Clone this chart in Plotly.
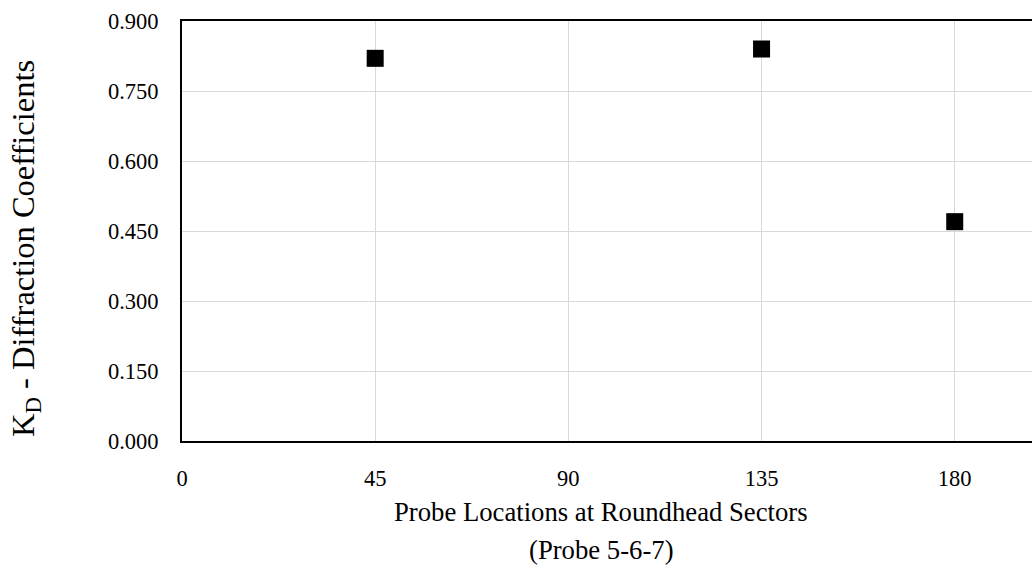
import plotly.graph_objects as go

# Probe sectors (degrees) and measured diffraction coefficients
sectors = [45, 135, 180]
kd_values = [0.82, 0.84, 0.47]

x_ticks = [0, 45, 90, 135, 180]
y_ticks = [0.0, 0.15, 0.30, 0.45, 0.60, 0.75, 0.90]

x_title_lines = ["Probe Locations at Roundhead Sectors", "(Probe 5-6-7)"]
y_title = "K<sub>D</sub> - Diffraction Coefficients"

font_family = "Liberation Serif, Times New Roman, serif"

fig = go.Figure(
    go.Scatter(
        x=sectors,
        y=kd_values,
        mode="markers",
        marker=dict(symbol="square", size=17, color="black",
                    line=dict(width=0)),
        showlegend=False,
    )
)

fig.update_layout(
    width=1032,
    height=577,
    margin=dict(l=182, r=0, t=21, b=136),
    paper_bgcolor="white",
    plot_bgcolor="white",
    font=dict(family=font_family, size=22.5, color="black"),
)

fig.update_xaxes(
    range=[0, 198],
    tickvals=x_ticks,
    ticktext=[str(v) for v in x_ticks],
    showgrid=True,
    gridcolor="#d9d9d9",
    gridwidth=1,
    zeroline=False,
    showline=True,
    linecolor="black",
    linewidth=2,
    mirror=True,
    ticks="",
    ticklabelstandoff=16,
)

fig.update_yaxes(
    range=[0, 0.9],
    tickvals=y_ticks,
    tickformat=".3f",
    showgrid=True,
    gridcolor="#d9d9d9",
    gridwidth=1,
    zeroline=False,
    showline=True,
    linecolor="black",
    linewidth=2,
    ticks="",
    ticklabelstandoff=17,
)

# Axis titles placed as annotations (two-line x title, rotated y title)
fig.add_annotation(
    text=x_title_lines[0], xref="paper", yref="paper", x=0.5, y=0,
    xanchor="center", yanchor="middle", xshift=-6, yshift=-71,
    showarrow=False, font=dict(size=26.7),
)
fig.add_annotation(
    text=x_title_lines[1], xref="paper", yref="paper", x=0.5, y=0,
    xanchor="center", yanchor="middle", xshift=-6, yshift=-109,
    showarrow=False, font=dict(size=26.7),
)
fig.add_annotation(
    text=y_title, xref="paper", yref="paper", x=0, y=0.5,
    xanchor="center", yanchor="middle", xshift=-157, yshift=-18,
    textangle=-90, showarrow=False, font=dict(size=32.5),
)

fig.write_html("out.html")
